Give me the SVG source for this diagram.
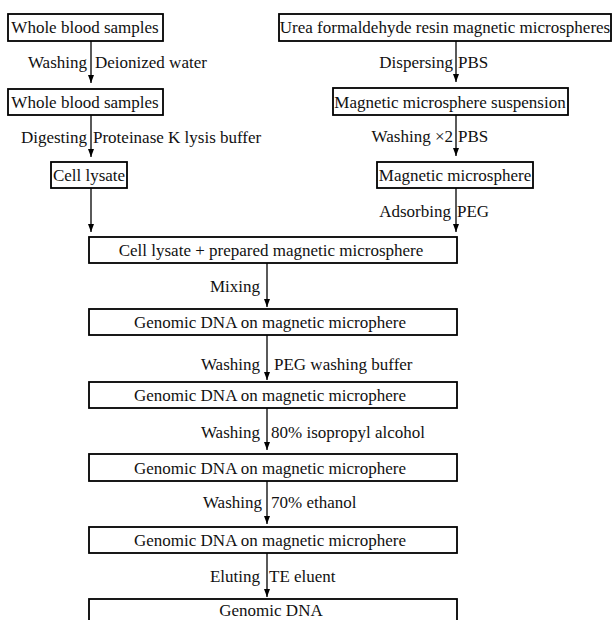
<svg xmlns="http://www.w3.org/2000/svg" width="613" height="620" viewBox="0 0 613 620">
<style>
.box{fill:#fff;stroke:#000;stroke-width:1.8}
.t{font-family:'Liberation Serif','Times New Roman',serif;font-size:17px;fill:#111}
.c{text-anchor:middle}
.e{text-anchor:end}
.ln{stroke:#000;stroke-width:1.3;fill:none;marker-end:url(#ah)}
</style>
<defs>
<marker id="ah" viewBox="0 0 8 6" refX="8" refY="3" markerWidth="8" markerHeight="6" markerUnits="userSpaceOnUse" orient="auto">
<path d="M0,0 L8,3 L0,6 z" fill="#000"/>
</marker>
</defs>
<rect width="613" height="620" fill="#fff"/>
<g id="connectors">
<line class="ln" x1="91" y1="41" x2="91" y2="83"/>
<line class="ln" x1="91" y1="115" x2="91" y2="157"/>
<line class="ln" x1="91" y1="188" x2="91" y2="232"/>
<line class="ln" x1="456" y1="41" x2="456" y2="82"/>
<line class="ln" x1="456" y1="115" x2="456" y2="156"/>
<line class="ln" x1="456" y1="188" x2="456" y2="232"/>
<line class="ln" x1="267" y1="263" x2="267" y2="307"/>
<line class="ln" x1="267" y1="335" x2="267" y2="380"/>
<line class="ln" x1="267" y1="408" x2="267" y2="450"/>
<line class="ln" x1="267" y1="481" x2="267" y2="524"/>
<line class="ln" x1="267" y1="553" x2="267" y2="597"/>
<text class="t e" x="87" y="68">Washing</text>
<text class="t" x="95" y="68">Deionized water</text>
<text class="t e" x="87" y="143">Digesting</text>
<text class="t" x="93" y="143">Proteinase K lysis buffer</text>
<text class="t e" x="453" y="68">Dispersing</text>
<text class="t" x="458" y="68">PBS</text>
<text class="t e" x="453" y="142">Washing ×2</text>
<text class="t" x="458" y="142">PBS</text>
<text class="t e" x="451" y="217">Adsorbing</text>
<text class="t" x="457" y="217">PEG</text>
<text class="t e" x="260" y="292">Mixing</text>
<text class="t e" x="260" y="370">Washing</text>
<text class="t" x="274" y="370">PEG washing buffer</text>
<text class="t e" x="260" y="438">Washing</text>
<text class="t" x="271" y="438">80% isopropyl alcohol</text>
<text class="t e" x="262" y="508">Washing</text>
<text class="t" x="271" y="508">70% ethanol</text>
<text class="t e" x="260" y="582">Eluting</text>
<text class="t" x="269" y="582">TE eluent</text>
</g>
<g id="n1"><rect class="box" x="8" y="14" width="155" height="27"/><text class="t c" x="85" y="33">Whole blood samples</text></g>
<g id="n2"><rect class="box" x="8" y="89" width="155" height="26"/><text class="t c" x="85" y="108">Whole blood samples</text></g>
<g id="n3"><rect class="box" x="51" y="162" width="76" height="26"/><text class="t c" x="89" y="181">Cell lysate</text></g>
<g id="n4"><rect class="box" x="279" y="14" width="332" height="27"/><text class="t c" x="445" y="33">Urea formaldehyde resin magnetic microspheres</text></g>
<g id="n5"><rect class="box" x="333" y="88" width="235" height="27"/><text class="t c" x="450" y="108">Magnetic microsphere suspension</text></g>
<g id="n6"><rect class="box" x="377" y="162" width="156" height="26"/><text class="t c" x="455" y="181">Magnetic microsphere</text></g>
<g id="n7"><rect class="box" x="89" y="237" width="368" height="26"/><text class="t c" x="271" y="256">Cell lysate + prepared magnetic microsphere</text></g>
<g id="n8"><rect class="box" x="89" y="309" width="368" height="26"/><text class="t c" x="270" y="328">Genomic DNA on magnetic microphere</text></g>
<g id="n9"><rect class="box" x="89" y="382" width="368" height="26"/><text class="t c" x="270" y="401">Genomic DNA on magnetic microphere</text></g>
<g id="n10"><rect class="box" x="89" y="454" width="368" height="27"/><text class="t c" x="270" y="474">Genomic DNA on magnetic microphere</text></g>
<g id="n11"><rect class="box" x="89" y="527" width="368" height="26"/><text class="t c" x="270" y="546">Genomic DNA on magnetic microphere</text></g>
<g id="n12"><rect class="box" x="89" y="599" width="368" height="26"/><text class="t c" x="271" y="616">Genomic DNA</text></g>
</svg>
